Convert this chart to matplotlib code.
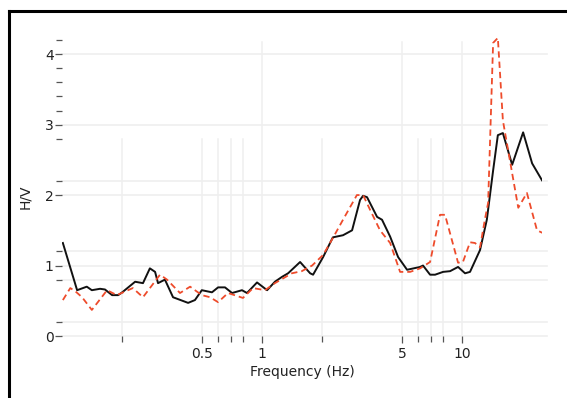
import matplotlib
matplotlib.use("Agg")
import matplotlib.pyplot as plt
from matplotlib.lines import Line2D

# ---- data ----
freq_black = [0.101, 0.119, 0.133, 0.141, 0.155, 0.164, 0.178, 0.191, 0.200, 0.232,
              0.254, 0.275, 0.292, 0.302, 0.327, 0.359, 0.427, 0.462, 0.500, 0.562,
              0.603, 0.653, 0.708, 0.794, 0.841, 0.944, 1.06, 1.16, 1.26, 1.35,
              1.55, 1.74, 1.80, 2.02, 2.26, 2.54, 2.82, 3.09, 3.20, 3.35,
              3.76, 3.98, 4.37, 4.79, 5.31, 6.17, 6.38, 6.92, 7.33, 8.04,
              8.71, 9.55, 10.35, 10.96, 12.3, 13.3, 14.3, 15.1, 16.0, 17.8,
              20.2, 22.4, 25.1]
hv_black = [1.32, 0.65, 0.70, 0.65, 0.67, 0.66, 0.58, 0.58, 0.62, 0.77,
            0.75, 0.96, 0.91, 0.75, 0.80, 0.55, 0.47, 0.51, 0.65, 0.62,
            0.69, 0.69, 0.61, 0.65, 0.61, 0.76, 0.65, 0.77, 0.84, 0.89,
            1.05, 0.89, 0.87, 1.12, 1.40, 1.43, 1.50, 1.93, 1.99, 1.97,
            1.69, 1.65, 1.41, 1.12, 0.94, 0.98, 1.00, 0.87, 0.87, 0.91,
            0.92, 0.98, 0.89, 0.91, 1.22, 1.65, 2.35, 2.85, 2.88, 2.43,
            2.89, 2.45, 2.21]

freq_red = [0.101, 0.110, 0.116, 0.126, 0.141, 0.168, 0.188, 0.226, 0.254, 0.309,
            0.335, 0.389, 0.437, 0.500, 0.550, 0.603, 0.676, 0.803, 0.902, 1.035,
            1.16, 1.41, 1.58, 1.78, 2.02, 2.26, 2.54, 2.98, 3.20, 3.47,
            3.89, 4.37, 4.90, 5.50, 6.17, 6.92, 7.76, 8.22, 9.55, 10.1,
            10.96, 11.6, 12.3, 13.0, 13.5, 14.3, 15.1, 16.0, 17.8, 19.1,
            21.1, 23.7, 25.4]
hv_red = [0.51, 0.68, 0.64, 0.55, 0.37, 0.65, 0.58, 0.68, 0.55, 0.87,
          0.80, 0.61, 0.70, 0.58, 0.55, 0.48, 0.61, 0.54, 0.68, 0.65,
          0.75, 0.89, 0.92, 1.00, 1.15, 1.39, 1.65, 2.00, 2.00, 1.79,
          1.50, 1.32, 0.91, 0.91, 0.96, 1.05, 1.72, 1.72, 1.04, 1.05,
          1.33, 1.32, 1.26, 1.65, 1.89, 4.16, 4.23, 3.06, 2.31, 1.82,
          2.03, 1.50, 1.46]

x_major = [0.5, 1, 5, 10]
x_major_labels = ["0.5", "1", "5", "10"]
x_minor = [0.2, 0.6, 0.7, 0.8, 2, 6, 7, 8]
y_major = [0, 1, 2, 3, 4]
y_minor = [0.2, 0.8, 1.2, 2.2, 2.8, 3.2, 3.4, 3.6, 3.8, 4.2]
h_grid = [0, 0.2, 0.8, 1, 1.2, 2, 2.2, 3, 4]
v_grid_full = [1, 5, 10]
v_grid_low = [0.2, 0.5, 0.6, 0.7, 0.8, 2, 6, 7, 8]

W, H = 567, 398
fig = plt.figure(figsize=(W / 100, H / 100), dpi=100)
fig.patch.set_facecolor("white")

# outer frame (top + left visible)
fig.add_artist(Line2D([9 / W, 9 / W], [0, 1 - 11 / H], transform=fig.transFigure,
                      color="black", lw=2.2))
fig.add_artist(Line2D([9 / W, 1], [1 - 11 / H, 1 - 11 / H], transform=fig.transFigure,
                      color="black", lw=2.2))

left, right = 62 / W, 542 / W
bottom, top = (H - 336) / H, (H - 33) / H
ax = fig.add_axes([left, bottom, right - left, top - bottom])
ax.set_xscale("log")
ax.set_xlim(0.1, 25.1)
ax.set_ylim(0, 4.3)
for s in ax.spines.values():
    s.set_visible(False)

gc = "#efefef"
for yv in h_grid:
    ax.axhline(yv, color=gc, lw=1.2, zorder=0, xmax=1.01, clip_on=False)
for xv in v_grid_full:
    ax.axvline(xv, color=gc, lw=1.1, zorder=0, ymin=0, ymax=0.97)
for xv in v_grid_low:
    ax.axvline(xv, color=gc, lw=1.1, zorder=0, ymin=0, ymax=0.65)

ax.plot(freq_black, hv_black, color="#111111", lw=1.4, zorder=3)
ax.plot(freq_red, hv_red, color="#ee4b2b", lw=1.3, ls=(0, (3.5, 2.2)), zorder=4)

ax.set_xticks(x_major)
ax.set_xticklabels(x_major_labels)
ax.set_xticks(x_minor, minor=True)
ax.set_xticklabels([], minor=True)
ax.set_yticks(y_major)
ax.set_yticks(y_minor, minor=True)
ax.tick_params(axis="both", which="both", colors="#555555", labelcolor="#222222",
               labelsize=10, width=0.9)
ax.tick_params(axis="x", which="major", length=5, pad=3)
ax.tick_params(axis="x", which="minor", length=4)
ax.tick_params(axis="y", which="major", length=5, pad=1)
ax.tick_params(axis="y", which="minor", length=4)

ax.set_xlabel("Frequency (Hz)", fontsize=10, color="#222222", labelpad=3)
ax.set_ylabel("H/V", fontsize=10, color="#222222", labelpad=4)
ax.yaxis.set_label_coords(-0.062, 0.46)

fig.savefig("out.png", dpi=100, facecolor="white")
